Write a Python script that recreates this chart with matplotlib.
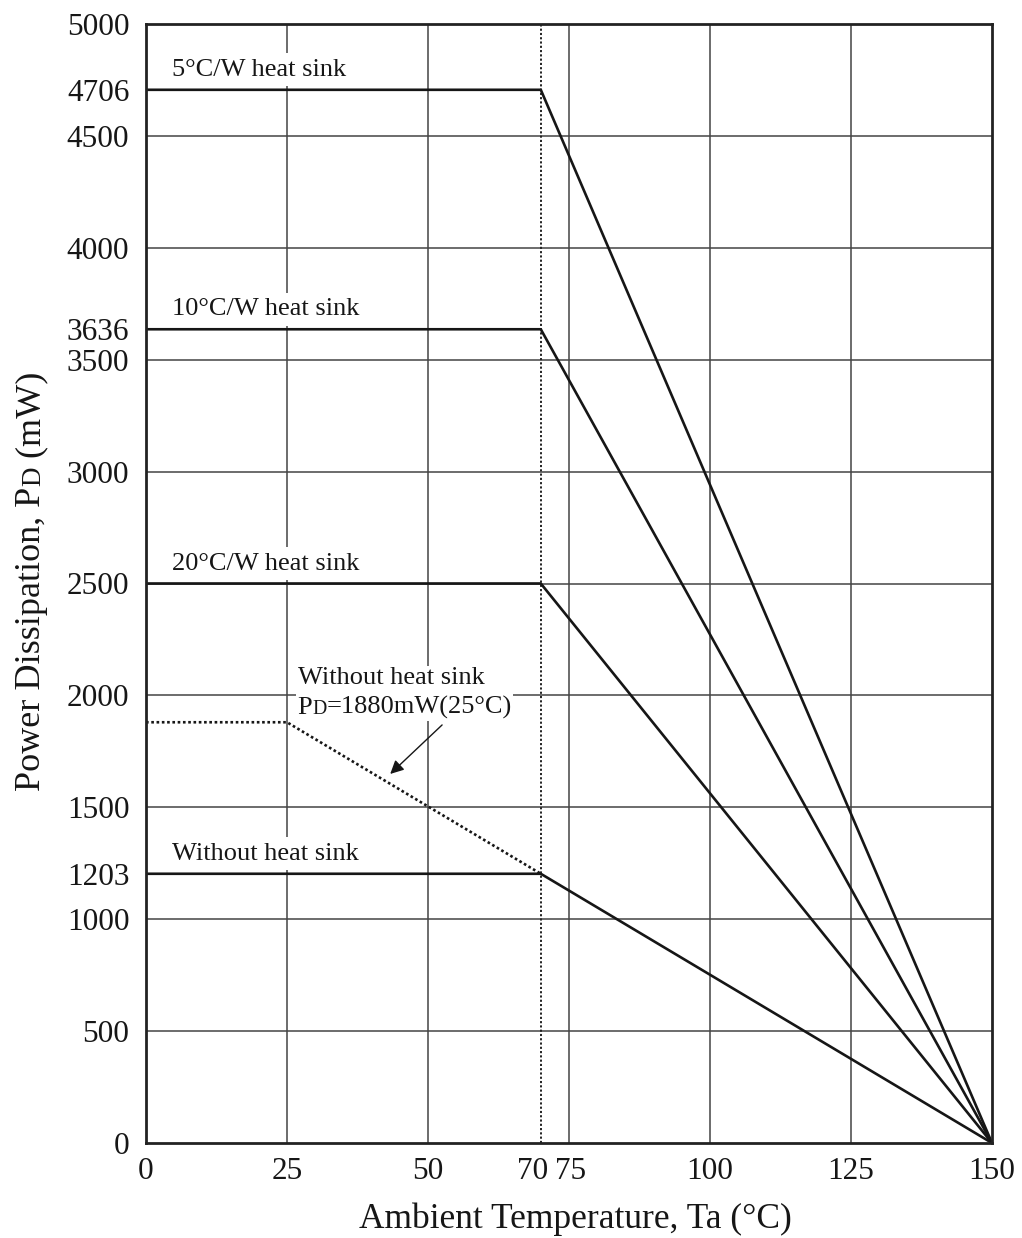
import matplotlib
matplotlib.use("Agg")
import matplotlib.pyplot as plt
from matplotlib.offsetbox import TextArea, HPacker, VPacker, AnnotationBbox
import matplotlib.transforms as mtransforms

# ---------------- data ----------------
temps = [0, 70, 150]
pd_5cw = [4706, 4706, 0]
pd_10cw = [3636, 3636, 0]
pd_20cw = [2500, 2500, 0]
pd_none = [1203, 1203, 0]
temps_none25 = [0, 25, 70]
pd_none25 = [1880, 1880, 1203]

x_ticks = [0, 25, 50, 70, 75, 100, 125, 150]
y_ticks = [0, 500, 1000, 1203, 1500, 2000, 2500, 3000, 3500, 3636, 4000, 4500, 4706, 5000]
x_grid = [25, 50, 75, 100, 125]
y_grid = [500, 1000, 1500, 2000, 2500, 3000, 3500, 4000, 4500]
labels = ["5°C/W heat sink", "10°C/W heat sink", "20°C/W heat sink", "Without heat sink"]
label_levels = [4706, 3636, 2500, 1203]

FONT = "Liberation Serif"
plt.rcParams['font.family'] = [FONT, 'DejaVu Serif']

W, H = 1022, 1238
fig = plt.figure(figsize=(W / 100, H / 100), dpi=100)
ax = fig.add_axes([146 / W, 1 - 1143 / H, (992 - 146) / W, (1143 - 24) / H])
ax.set_xlim(0, 150)
ax.set_ylim(0, 5000)

INK = '#161616'

# grid
for gx in x_grid:
    ax.axvline(gx, color='#444444', lw=1.1, zorder=1)
for gy in y_grid:
    ax.axhline(gy, color='#444444', lw=1.1, zorder=1)
ax.axvline(70, color='#222222', lw=1.4, ls=(0, (1.1, 1.1)), zorder=1.5)

# data lines
for vals in (pd_5cw, pd_10cw, pd_20cw, pd_none):
    ax.plot(temps, vals, color=INK, lw=1.9, zorder=4, solid_capstyle='butt')
ax.plot(temps_none25, pd_none25, color=INK, lw=1.9, ls=(0, (1, 1)), zorder=4)

# curve labels with white boxes to break grid
for txt, lvl in zip(labels, label_levels):
    ax.annotate(txt, xy=(4.6, lvl), xytext=(0, 10), textcoords='offset points',
                ha='left', va='baseline', fontsize=19, color=INK, zorder=3,
                bbox=dict(facecolor='white', edgecolor='none', pad=4))

# annotation block
fs = 19
ta1 = TextArea("Without heat sink", textprops=dict(fontsize=fs, color=INK))
tp = TextArea("P", textprops=dict(fontsize=fs, color=INK))
td = TextArea("D", textprops=dict(fontsize=fs * 0.75, color=INK))
tr = TextArea("=1880mW(25°C)", textprops=dict(fontsize=fs, color=INK))
row2 = HPacker(children=[tp, td, tr], align='baseline', pad=0, sep=0)
block = VPacker(children=[ta1, row2], align='left', pad=0, sep=5)
ab = AnnotationBbox(block, (26.9, 1893), xycoords='data', box_alignment=(0, 0),
                    frameon=True, pad=0.1, zorder=3,
                    bboxprops=dict(facecolor='white', edgecolor='none'))
ax.add_artist(ab)
ax.annotate("", xy=(43.3, 1649), xytext=(52.5, 1868),
            arrowprops=dict(arrowstyle='-|>', color=INK, lw=1.0,
                            mutation_scale=20, shrinkA=0, shrinkB=0), zorder=5)

# ticks
ax.set_xticks(x_ticks)
ax.set_xticklabels([str(v) for v in x_ticks])
ax.set_yticks(y_ticks)
ax.set_yticklabels([str(v) for v in y_ticks])
ax.tick_params(axis='both', length=0, labelsize=22.5, colors=INK)
ax.tick_params(axis='x', pad=10)
ax.tick_params(axis='y', pad=12)
shifts = {70: -8, 75: 2}
for lab, v in zip(ax.get_xticklabels(), x_ticks):
    if v in shifts:
        lab.set_transform(lab.get_transform() + mtransforms.ScaledTranslation(shifts[v] / 100, 0, fig.dpi_scale_trans))

for sp in ax.spines.values():
    sp.set_linewidth(2.0)
    sp.set_color('#222222')
    sp.set_zorder(6)

# x label
fig.text(575 / W, 1 - 1228 / H, "Ambient Temperature, Ta (°C)", ha='center', va='baseline',
         fontsize=25.5, color=INK)

# y label built from pieces (small-cap D)
renderer = fig.canvas.get_renderer()
parts = [("Power Dissipation, P", 26), ("D", 19.5), (" (mW)", 26)]
base_x = 40 / W
lengths = []
for s, f in parts:
    t = fig.text(0, 0, s, fontsize=f, rotation=90, rotation_mode='anchor', ha='left', va='baseline')
    bb = t.get_window_extent(renderer)
    lengths.append(bb.height)
    t.remove()
total = sum(lengths)
y_center = 1 - 581 / H
y0 = y_center * H - total / 2
for (s, f), L in zip(parts, lengths):
    fig.text(base_x, y0 / H, s, fontsize=f, rotation=90, rotation_mode='anchor',
             ha='left', va='baseline', color=INK)
    y0 += L

fig.savefig("out.png", dpi=100)
